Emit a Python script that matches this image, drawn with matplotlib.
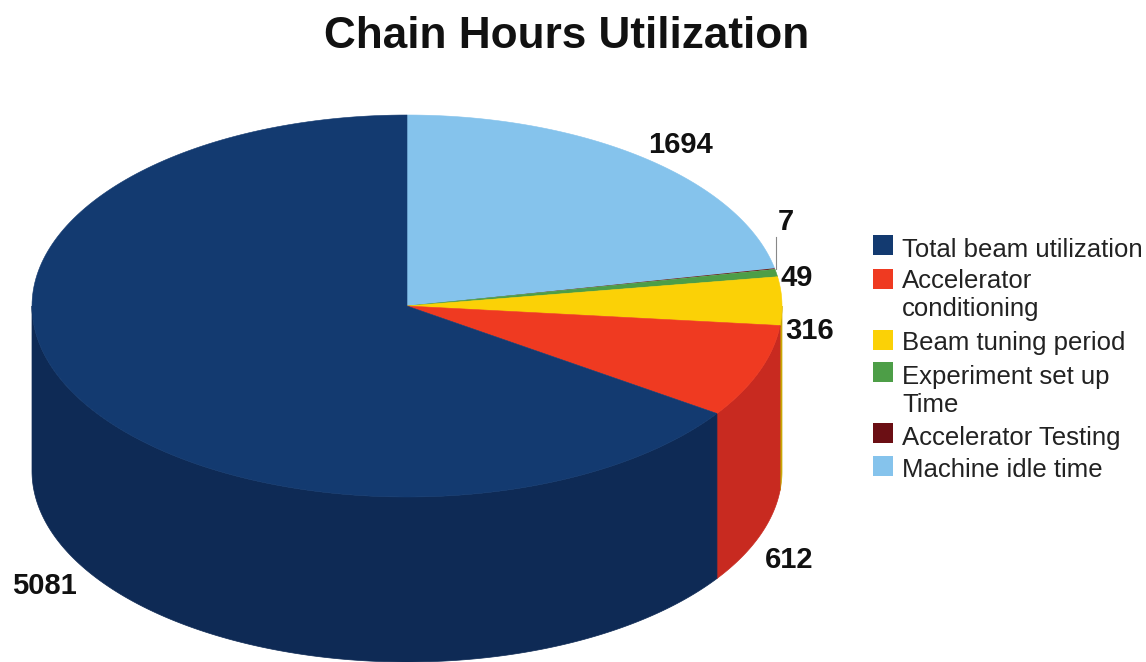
import numpy as np
import matplotlib
matplotlib.use('Agg')
import matplotlib.pyplot as plt
from matplotlib.patches import Polygon, Rectangle

plt.rcParams['font.family'] = ['Liberation Sans', 'DejaVu Sans']

# clockwise from 12 o'clock
labels = ['Machine idle time', 'Accelerator Testing', 'Experiment set up\nTime',
          'Beam tuning period', 'Accelerator\nconditioning', 'Total beam utilization']
values = [1694, 7, 49, 316, 612, 5081]
top_colors = ['#85c3ec', '#6b0f14', '#4d9e47', '#fbd106', '#ef3a21', '#133a70']
side_colors = ['#6a9cbd', '#560c10', '#3e7e39', '#c9a705', '#c82a20', '#0e2a55']

legend_order = [5, 4, 3, 2, 1, 0]
legend_y = [244.5, 279, 340, 372, 433, 466]
legend_text_y = [250, 295, 343, 391, 438, 470]
label_pos = [(681, 145), (786, 222), (797, 278), (810, 331), (789, 560), (44, 586)]

cx, cy, rx, ry, depth = 407, 306, 375, 191, 165

fig = plt.figure(figsize=(11.46, 6.62), dpi=100)
ax = fig.add_axes([0, 0, 1, 1])
ax.set_xlim(0, 1146)
ax.set_ylim(662, 0)
ax.axis('off')


def rim(a0, a1, n=200):
    t = np.radians(np.linspace(a0, a1, n))
    return cx + rx * np.sin(t), cy - ry * np.cos(t)


angles = np.concatenate([[0], np.cumsum(values) / np.sum(values) * 360])

# side walls, only the front half of the rim shows (90..270 deg)
for i in range(len(values)):
    a0, a1 = max(angles[i], 90), min(angles[i + 1], 270)
    if a1 <= a0:
        continue
    x, y = rim(a0, a1)
    pts = np.vstack([np.c_[x, y], np.c_[x[::-1], y[::-1] + depth]])
    ax.add_patch(Polygon(pts, closed=True, fc=side_colors[i], ec=side_colors[i], lw=0.5))

for i in range(len(values)):
    x, y = rim(angles[i], angles[i + 1])
    pts = np.vstack([[cx, cy], np.c_[x, y]])
    # the testing slice is too thin to show in the picture
    lw = 0 if values[i] < 10 else 0.4
    ax.add_patch(Polygon(pts, closed=True, fc=top_colors[i], ec=top_colors[i], lw=lw))

# thin leader for the smallest slice
mid = (angles[1] + angles[2]) / 2
lx, ly = rim(mid, mid, 1)
ax.plot([lx[0] + 1.5, lx[0] + 1.5], [ly[0], 237], color='#888888', lw=0.8)

for val, (tx, ty) in zip(values, label_pos):
    ax.text(tx, ty, str(val), fontsize=21, fontweight='bold', color='#111111', ha='center', va='center')

ax.text(566.5, 36, 'Chain Hours Utilization', fontsize=31.8, fontweight='bold', color='#111111',
        ha='center', va='center')

for idx, ly, ty in zip(legend_order, legend_y, legend_text_y):
    ax.add_patch(Rectangle((873, ly - 10), 20, 20, fc=top_colors[idx], ec='none'))
    ax.text(902, ty, labels[idx], fontsize=18.5, color='#222222', ha='left', va='center', linespacing=1.26)

fig.savefig('out.png', dpi=100)
